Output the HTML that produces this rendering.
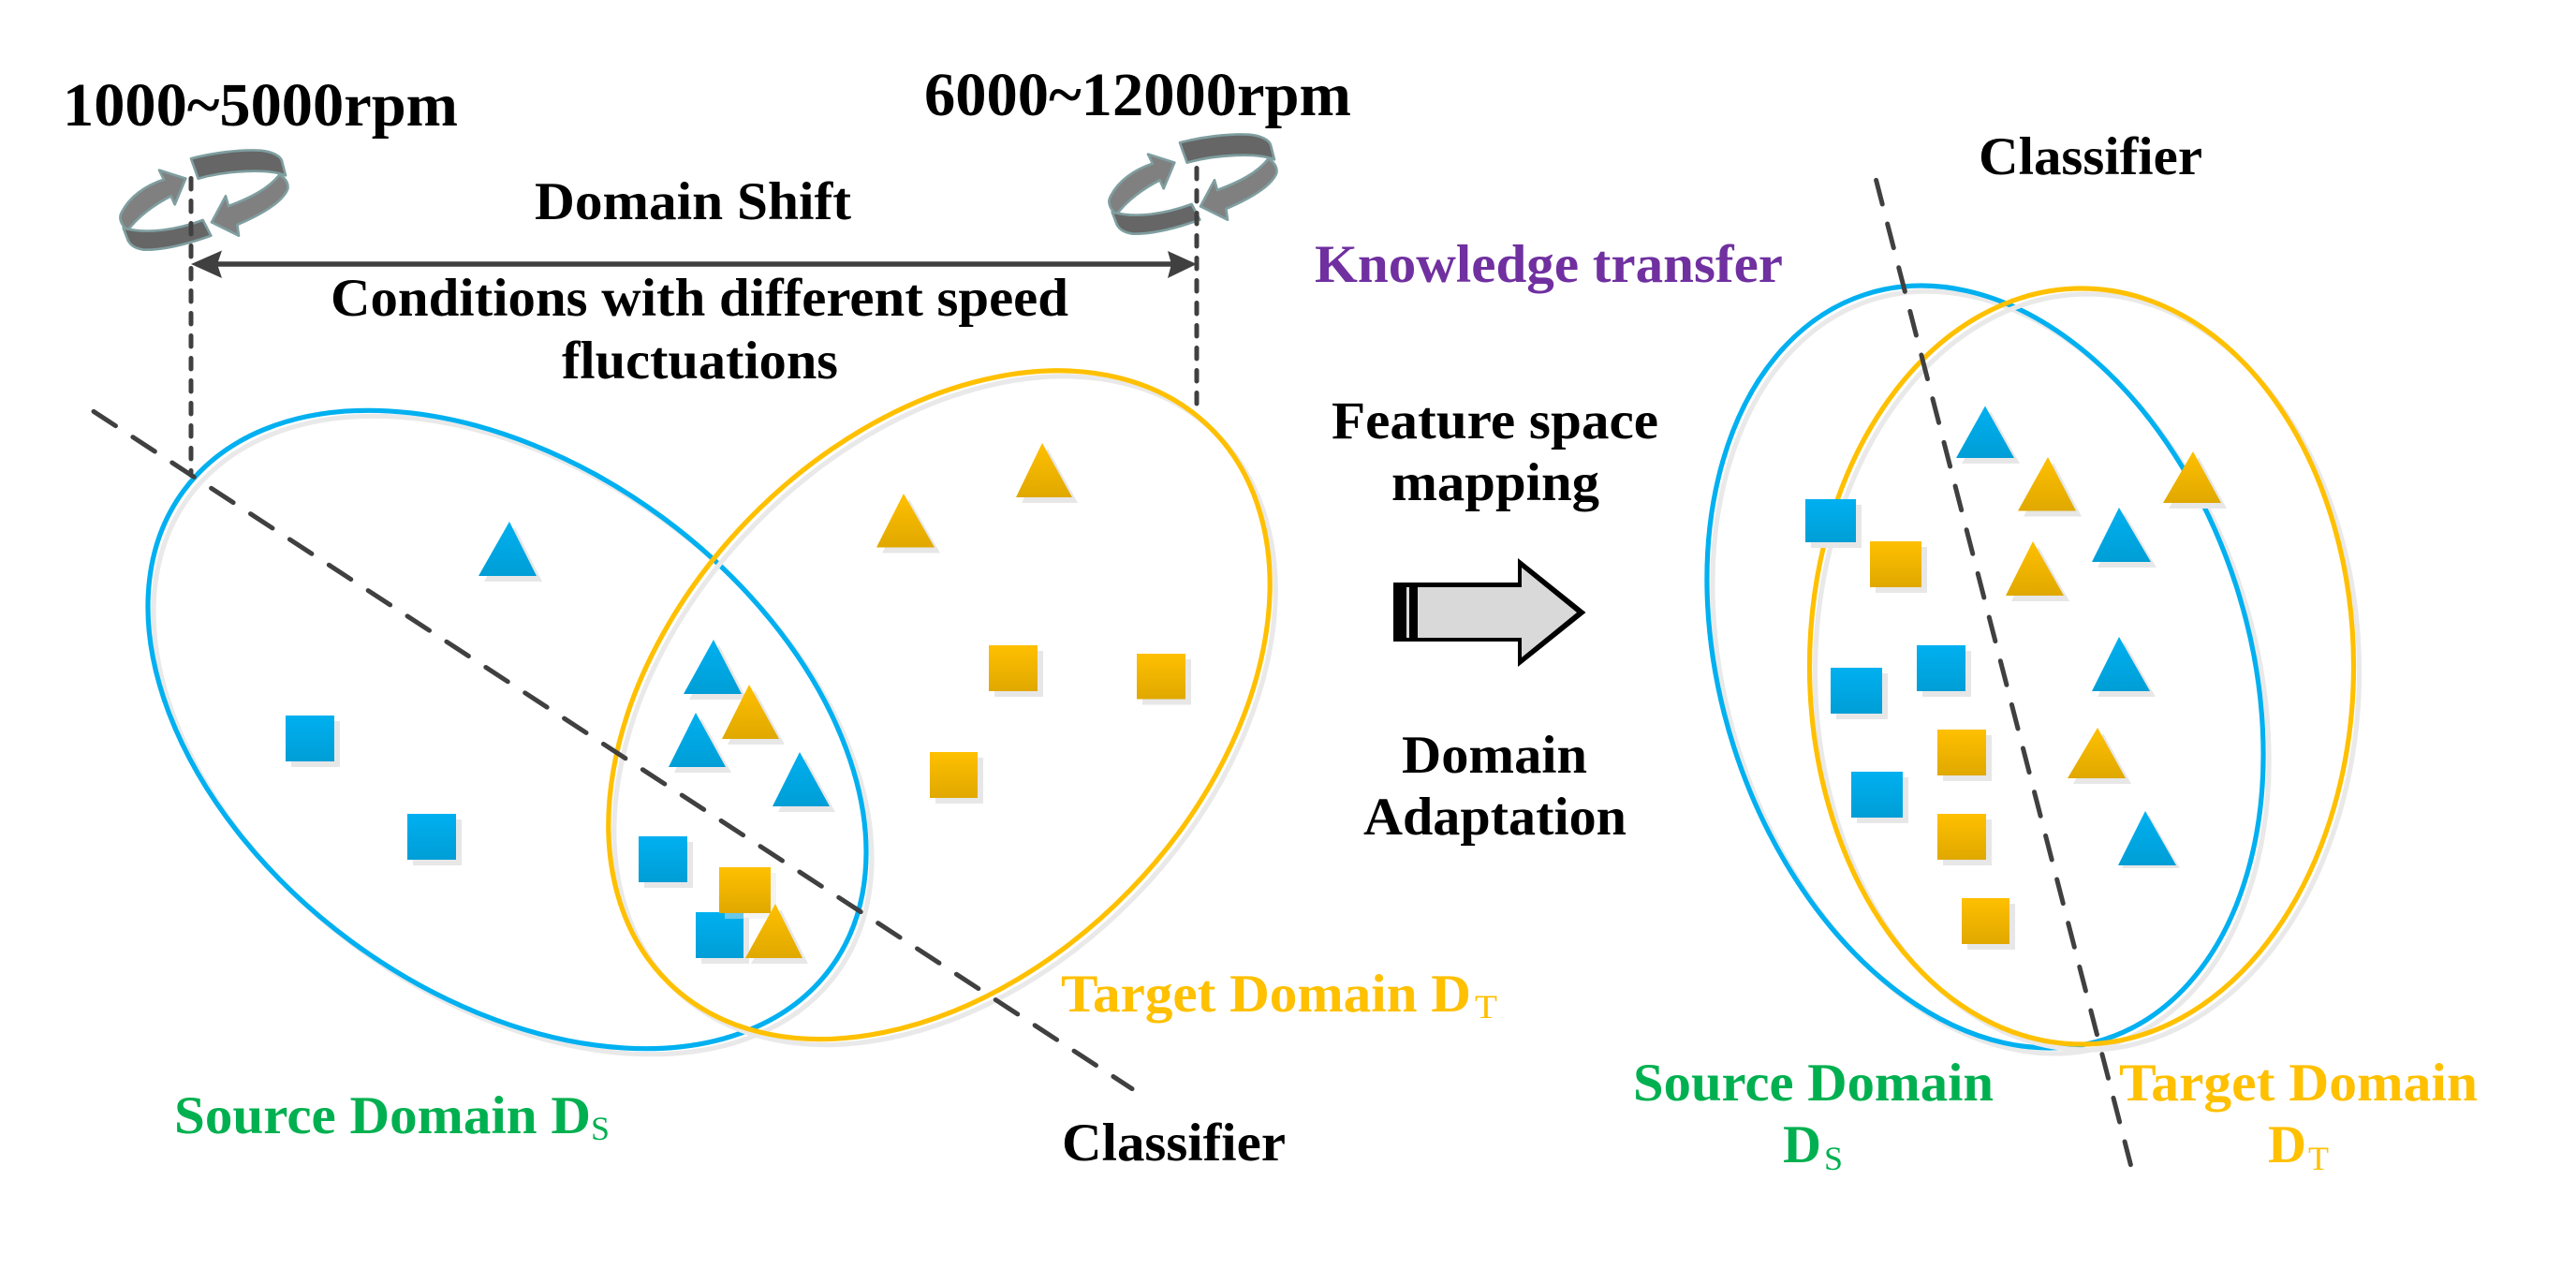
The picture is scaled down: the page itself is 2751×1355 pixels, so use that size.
<!DOCTYPE html>
<html><head><meta charset="utf-8"><style>
html,body{margin:0;padding:0;background:#fff}
svg{display:block}
text{font-family:"Liberation Serif",serif;font-weight:bold}
</style></head><body>
<svg width="2751" height="1355" viewBox="0 0 2751 1355" xmlns="http://www.w3.org/2000/svg">
<defs>
<linearGradient id="b" x1="0" y1="0" x2="0" y2="1"><stop offset="0" stop-color="#00B0F0"/><stop offset="1" stop-color="#009ED6"/></linearGradient>
<linearGradient id="y" x1="0" y1="0" x2="0" y2="1"><stop offset="0" stop-color="#FFC000"/><stop offset="1" stop-color="#E0A800"/></linearGradient>
<g id="rot">
<g transform="translate(100,130) scale(.3333)" stroke="#7F9EA0" stroke-width="8" stroke-linejoin="round">
<path fill="#808080" d="M108,350C90,330 78,310 90,290C115,240 165,205 225,185L210,155L295,182L260,265L248,238C195,265 140,305 108,350Z"/>
<path fill="#808080" d="M595,170C612,178 625,195 622,215C605,260 530,300 460,330L465,365L378,322L423,238L432,270C500,245 560,215 595,170Z"/>
<path fill="#666" d="M312,118C380,100 470,88 535,92C575,96 598,110 603,125L615,172C560,150 430,155 335,182Z"/>
<path fill="#666" d="M95,340C170,362 270,345 350,315L376,365C300,392 220,412 160,410C130,405 118,395 110,380Z"/>
</g>
</g>
</defs>

<!-- Left ellipses -->
<ellipse cx="547.5" cy="785" rx="429.3" ry="280.8" transform="rotate(36.45 547.5 785)" fill="none" stroke="#e9e9e9" stroke-width="5.2"/>
<ellipse cx="541.5" cy="779" rx="429.3" ry="280.8" transform="rotate(36.45 541.5 779)" fill="none" stroke="#00B0F0" stroke-width="5.2"/>
<ellipse cx="1009" cy="758.7" rx="414" ry="284" transform="rotate(-45.83 1009 758.7)" fill="none" stroke="#e9e9e9" stroke-width="5.2"/>
<ellipse cx="1003" cy="752.7" rx="414" ry="284" transform="rotate(-45.83 1003 752.7)" fill="none" stroke="#FFC000" stroke-width="5.2"/>

<!-- Right ellipses -->
<ellipse cx="2126" cy="718" rx="417.7" ry="281.7" transform="rotate(72.2 2126 718)" fill="none" stroke="#e9e9e9" stroke-width="5.2"/>
<ellipse cx="2120" cy="712" rx="417.7" ry="281.7" transform="rotate(72.2 2120 712)" fill="none" stroke="#00B0F0" stroke-width="5.2"/>
<ellipse cx="2229" cy="717.5" rx="290.5" ry="403.500" fill="none" stroke="#e9e9e9" stroke-width="5.2"/>
<ellipse cx="2223" cy="711.5" rx="290.5" ry="403.500" fill="none" stroke="#FFC000" stroke-width="5.2"/>

<!-- Left shapes -->
<polygon points="550,563 517,621 579,621" fill="#e7e7e7"/><polygon points="544,557 511,615 573,615" fill="url(#b)"/>
<rect x="311" y="770" width="52" height="49" fill="#e7e7e7"/><rect x="305" y="764" width="52" height="49" fill="url(#b)"/>
<rect x="441" y="875" width="52" height="49" fill="#e7e7e7"/><rect x="435" y="869" width="52" height="49" fill="url(#b)"/>
<polygon points="971,533 942,590.5 1004,590.5" fill="#e7e7e7"/><polygon points="965,527 936,584.5 998,584.5" fill="url(#y)"/>
<polygon points="1119,479 1091,537 1151,537" fill="#e7e7e7"/><polygon points="1113,473 1085,531 1145,531" fill="url(#y)"/>
<rect x="1062" y="695" width="52" height="49" fill="#e7e7e7"/><rect x="1056" y="689" width="52" height="49" fill="url(#y)"/>
<rect x="1220" y="704" width="52" height="48.500" fill="#e7e7e7"/><rect x="1214" y="698" width="52" height="48.500" fill="url(#y)"/>
<rect x="999" y="809" width="51" height="49" fill="#e7e7e7"/><rect x="993" y="803" width="51" height="49" fill="url(#y)"/>

<polygon points="768,689 736,747 798,747" fill="#e7e7e7"/><polygon points="762,683 730,741 792,741" fill="url(#b)"/>
<polygon points="806,737 777,795 838,795" fill="#e7e7e7"/><polygon points="800,731 771,789 832,789" fill="url(#y)"/>
<polygon points="749,767 720,825 781,825" fill="#e7e7e7"/><polygon points="743,761 714,819 775,819" fill="url(#b)"/>
<polygon points="860,809 831,867 892,867" fill="#e7e7e7"/><polygon points="854,803 825,861 886,861" fill="url(#b)"/>
<rect x="688" y="899" width="52" height="49" fill="#e7e7e7"/><rect x="682" y="893" width="52" height="49" fill="url(#b)"/>
<rect x="749" y="980" width="51" height="49" fill="#e7e7e7"/><rect x="743" y="974" width="51" height="49" fill="url(#b)"/>
<rect x="774" y="932" width="55" height="49" fill="#e7e7e7" fill-opacity=".45"/><rect x="768" y="926" width="55" height="49" fill="url(#y)"/>
<polygon points="834,971 802,1029 863,1029" fill="#e7e7e7"/><polygon points="828,965 796,1023 857,1023" fill="url(#y)"/>

<!-- Right shapes -->
<polygon points="2126,439.500 2095,495 2157,495" fill="#e7e7e7"/><polygon points="2120,433.500 2089,489 2151,489" fill="url(#b)"/>
<polygon points="2193,494 2161,551.500 2223,551.500" fill="#e7e7e7"/><polygon points="2187,488 2155,545.500 2217,545.500" fill="url(#y)"/>
<polygon points="2348,488 2316,543 2378,543" fill="#e7e7e7"/><polygon points="2342,482 2310,537 2372,537" fill="url(#y)"/>
<polygon points="2269,548 2240,606 2303,606" fill="#e7e7e7"/><polygon points="2263,542 2234,600 2297,600" fill="url(#b)"/>
<polygon points="2177,584 2148,642 2210,642" fill="#e7e7e7"/><polygon points="2171,578 2142,636 2204,636" fill="url(#y)"/>
<rect x="1934" y="539" width="54" height="46" fill="#e7e7e7"/><rect x="1928" y="533" width="54" height="46" fill="url(#b)"/>
<rect x="2003" y="584" width="55" height="49" fill="#e7e7e7"/><rect x="1997" y="578" width="55" height="49" fill="url(#y)"/>
<rect x="1961" y="719" width="55" height="49" fill="#e7e7e7"/><rect x="1955" y="713" width="55" height="49" fill="url(#b)"/>
<rect x="2053" y="695" width="52" height="49" fill="#e7e7e7"/><rect x="2047" y="689" width="52" height="49" fill="url(#b)"/>
<polygon points="2269,686 2240,744 2302,744" fill="#e7e7e7"/><polygon points="2263,680 2234,738 2296,738" fill="url(#b)"/>
<rect x="2075" y="785" width="52" height="49" fill="#e7e7e7"/><rect x="2069" y="779" width="52" height="49" fill="url(#y)"/>
<polygon points="2246,783 2214,837 2276,837" fill="#e7e7e7"/><polygon points="2240,777 2208,831 2270,831" fill="url(#y)"/>
<rect x="1983" y="830" width="55" height="49" fill="#e7e7e7"/><rect x="1977" y="824" width="55" height="49" fill="url(#b)"/>
<rect x="2075" y="875" width="52" height="49" fill="#e7e7e7"/><rect x="2069" y="869" width="52" height="49" fill="url(#y)"/>
<polygon points="2295,870 2266,927 2328,927" fill="#e7e7e7"/><polygon points="2291,866 2262,924 2324,924" fill="url(#b)"/>
<rect x="2101" y="965" width="51" height="49" fill="#e7e7e7"/><rect x="2095" y="959" width="51" height="49" fill="url(#y)"/>

<!-- Rotation icons -->
<use href="#rot"/>
<use href="#rot" transform="translate(1056,-17)"/>

<!-- Dashed lines -->
<g fill="none" stroke="#404040" stroke-linecap="round">
<line x1="204" y1="190.5" x2="204" y2="507.500" stroke-width="5" stroke-dasharray="11.500 12.500"/>
<line x1="1278" y1="179.5" x2="1278" y2="431" stroke-width="5" stroke-dasharray="11.500 12.500"/>
<line x1="100" y1="439.4" x2="1209" y2="1162.6" stroke-width="5" stroke-dasharray="28 22"/>
<line x1="2003.6" y1="192.4" x2="2275.4" y2="1243.6" stroke-width="5" stroke-dasharray="26.400 21.800"/>
</g>
<line x1="225" y1="282" x2="1257" y2="282" stroke="#404040" stroke-width="5.5"/>
<polygon points="204,282 237,267.500 232,282 237,297" fill="#404040"/>
<polygon points="1278,282 1247,268 1251,282 1247,297" fill="#404040"/>

<!-- Big arrow -->
<polygon points="1488,622 1621,622 1621,596 1693.500,654 1621,712 1621,685 1488,685" fill="#000"/>
<polygon points="1514,627 1625,627 1625,606 1684,654 1625,702 1625,681 1514,681" fill="#D9D9D9"/>
<rect x="1502" y="627" width="3" height="54" fill="#D9D9D9"/>

<!-- Text -->
<g fill="#000" font-size="57">
<text x="67" y="134" font-size="66" textLength="422" lengthAdjust="spacingAndGlyphs">1000~5000rpm</text>
<text x="987" y="123" font-size="66" textLength="456" lengthAdjust="spacingAndGlyphs">6000~12000rpm</text>
<text x="571" y="234" textLength="338" lengthAdjust="spacingAndGlyphs">Domain Shift</text>
<text x="353" y="337" textLength="788" lengthAdjust="spacingAndGlyphs">Conditions with different speed</text>
<text x="600" y="404" textLength="295" lengthAdjust="spacingAndGlyphs">fluctuations</text>
<text x="2113" y="186" textLength="239" lengthAdjust="spacingAndGlyphs">Classifier</text>
<text x="1134" y="1239" textLength="239" lengthAdjust="spacingAndGlyphs">Classifier</text>
<text x="1422" y="468" textLength="349" lengthAdjust="spacingAndGlyphs">Feature space</text>
<text x="1486" y="534" textLength="222" lengthAdjust="spacingAndGlyphs">mapping</text>
<text x="1497" y="825" textLength="198" lengthAdjust="spacingAndGlyphs">Domain</text>
<text x="1456" y="891" textLength="281" lengthAdjust="spacingAndGlyphs">Adaptation</text>
</g>
<text x="1404" y="301" font-size="57" fill="#7030A0" textLength="500" lengthAdjust="spacingAndGlyphs">Knowledge transfer</text>
<g fill="#00B050" font-size="57">
<text x="186" y="1210" textLength="445" lengthAdjust="spacingAndGlyphs">Source Domain D</text>
<text x="1744" y="1175" textLength="385" lengthAdjust="spacingAndGlyphs">Source Domain</text>
<text x="1904" y="1241" textLength="41" lengthAdjust="spacingAndGlyphs">D</text>
</g>
<g fill="#00B050" font-size="36">
<text x="631" y="1217" style="font-weight:normal" textLength="20" lengthAdjust="spacingAndGlyphs">S</text>
<text x="1948" y="1249" style="font-weight:normal" textLength="20" lengthAdjust="spacingAndGlyphs">S</text>
</g>
<g fill="#FFC000" font-size="57">
<text x="1133" y="1080" textLength="438" lengthAdjust="spacingAndGlyphs">Target Domain D</text>
<text x="2263" y="1175" textLength="383" lengthAdjust="spacingAndGlyphs">Target Domain</text>
<text x="2422" y="1241" textLength="41" lengthAdjust="spacingAndGlyphs">D</text>
</g>
<g fill="#FFC000" font-size="36">
<text x="1575" y="1087" style="font-weight:normal" textLength="24" lengthAdjust="spacingAndGlyphs">T</text>
<text x="2465" y="1249" style="font-weight:normal" textLength="22" lengthAdjust="spacingAndGlyphs">T</text>
</g>
</svg>
</body></html>
